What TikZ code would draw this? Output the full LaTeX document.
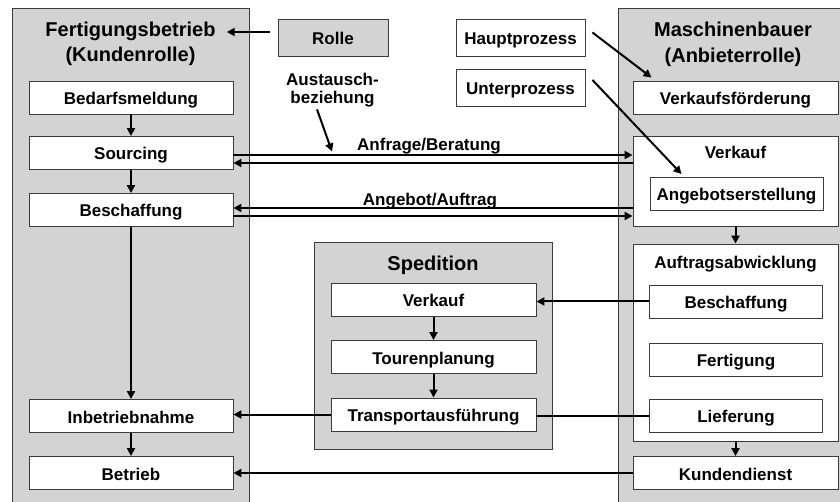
\documentclass[tikz,border=0pt]{standalone}
\usepackage{fontspec}
\setmainfont{Liberation Sans}
\usetikzlibrary{arrows.meta}
\definecolor{panelgrey}{RGB}{211,211,211}
\definecolor{edgegrey}{RGB}{60,60,60}
\begin{document}
\begin{tikzpicture}[x=1pt,y=-1pt,
  font=\fontsize{17}{20}\selectfont\bfseries,
  txt/.style={inner sep=0pt, text height=14pt, text depth=0pt},
  panel/.style={draw=edgegrey, fill=panelgrey, line width=0.9pt, inner sep=0pt},
  procbox/.style={txt, draw=edgegrey, fill=white, line width=0.9pt,
    minimum height=33pt},
  wide/.style={procbox, minimum width=205pt},
  inner/.style={procbox, minimum width=173pt},
  legendbox/.style={txt, draw=edgegrey, line width=0.9pt, minimum height=37pt},
  heading/.style={font=\fontsize{20}{25}\selectfont\bfseries, inner sep=0pt,
    text height=16pt, text depth=0pt},
  flow/.style={line width=2pt, -{Triangle[length=8pt,width=8pt]}},
  link/.style={line width=2pt}]
\useasboundingbox (0,0) rectangle (840,502);

% role panels
\node[panel, minimum width=237pt, minimum height=520pt] (kunde) at (130.5,268) {};
\node[panel, minimum width=236pt, minimum height=520pt] (anbieter) at (736,268) {};
\node[panel, minimum width=238pt, minimum height=207pt] (spedition) at (433,345.5) {};

% headings
\node[heading] (ftitle) at (130.5,29) {Fertigungsbetrieb};
\node[heading] (ftitle2) at (130.5,54) {(Kundenrolle)};
\node[heading] (mtitle) at (733,29) {Maschinenbauer};
\node[heading] (mtitle2) at (733,54.5) {(Anbieterrolle)};
\node[heading] (stitle) at (433,262.7) {Spedition};

% legend
\node[legendbox, fill=panelgrey, minimum width=110pt] (rolle) at (333,37.5) {Rolle};
\node[legendbox, fill=white, minimum width=129pt] (haupt) at (520.5,37.5) {Hauptprozess};
\node[legendbox, fill=white, minimum width=129pt] (unter) at (520.5,87.5) {Unterprozess};
\node[align=center, inner sep=0pt, anchor=north,
  font=\fontsize{17}{18.3}\selectfont\bfseries] (aus) at (332.5,72.8) {Austausch-\\beziehung};
\coordinate (austip) at (332,151.5);

% customer processes
\node[procbox, minimum width=204pt] (bedarf) at (131,97.5) {Bedarfsmeldung};
\node[procbox, minimum width=204pt] (sourcing) at (131,153) {Sourcing};
\node[procbox, minimum width=204pt] (beschL) at (131,210) {Beschaffung};
\node[procbox, minimum width=204pt] (inbetrieb) at (131,416) {Inbetriebnahme};
\node[procbox, minimum width=204pt] (betrieb) at (131,473) {Betrieb};

% supplier processes
\node[wide] (vkf) at (735.5,97.5) {Verkaufsförderung};
\node[wide, minimum height=90pt] (verkauf) at (735.5,181) {};
\node[txt] (verkaufT) at (735.5,152) {Verkauf};
\node[inner] (angebot) at (736.5,194) {Angebotserstellung};
\node[wide, minimum height=197pt] (auftrag) at (735.5,342.5) {};
\node[txt] (auftragT) at (735.5,261.3) {Auftragsabwicklung};
\node[inner] (beschR) at (736,301.5) {Beschaffung};
\node[inner] (fert) at (736,359.5) {Fertigung};
\node[inner] (lief) at (736,415.5) {Lieferung};
\node[wide] (kunden) at (735.5,473) {Kundendienst};

% forwarder processes
\node[wide] (verkS) at (433.5,300) {Verkauf};
\node[wide] (touren) at (433.5,357) {Tourenplanung};
\node[wide] (transp) at (433.5,414.5) {Transportausführung};

% legend arrows
\draw[flow] ([xshift=-8pt,yshift=5.5pt]rolle.west) -- ([xshift=11pt,yshift=-3pt]ftitle.east);
\draw[flow] ([xshift=-15.5pt,yshift=-2pt]aus.south) -- (austip);
\draw[flow] ([xshift=7pt,yshift=5pt]haupt.east) -- ([xshift=19pt,yshift=3pt]vkf.north west);
\draw[flow] ([xshift=7pt,yshift=7.5pt]unter.east) -- ([xshift=32pt,yshift=3pt]angebot.north west);

% process sequences
\draw[flow] (bedarf) -- (sourcing);
\draw[flow] (sourcing) -- (beschL);
\draw[flow] (beschL) -- (inbetrieb);
\draw[flow] (inbetrieb) -- (betrieb);
\draw[flow] (verkauf.south) -- (auftrag.north);
\draw[flow] (auftrag.south) -- (kunden.north);
\draw[flow] (verkS) -- (touren);
\draw[flow] (touren) -- (transp);

% exchanges between the roles
\draw[flow] ([yshift=-2pt]sourcing.east) -- ([yshift=-2pt]sourcing.east -| verkauf.west);
\draw[flow] ([yshift=-10pt]sourcing.east -| verkauf.west) -- ([yshift=-10pt]sourcing.east);
\draw[flow] ([yshift=2pt]beschL.east -| verkauf.west) -- ([yshift=2pt]beschL.east);
\draw[flow] ([yshift=-6pt]beschL.east) -- ([yshift=-6pt]beschL.east -| verkauf.west);
\node[txt] (anfrage) at (429,143.7) {Anfrage/Beratung};
\node[txt] (angauf) at (430,198.7) {Angebot/Auftrag};

\draw[flow] (beschR.west) -- (beschR.west -| verkS.east);
\draw[link] (lief.west) -- (lief.west -| transp.east);
\draw[flow] (transp.west) -- (transp.west -| inbetrieb.east);
\draw[flow] (kunden.west) -- (kunden.west -| betrieb.east);
\end{tikzpicture}
\end{document}
